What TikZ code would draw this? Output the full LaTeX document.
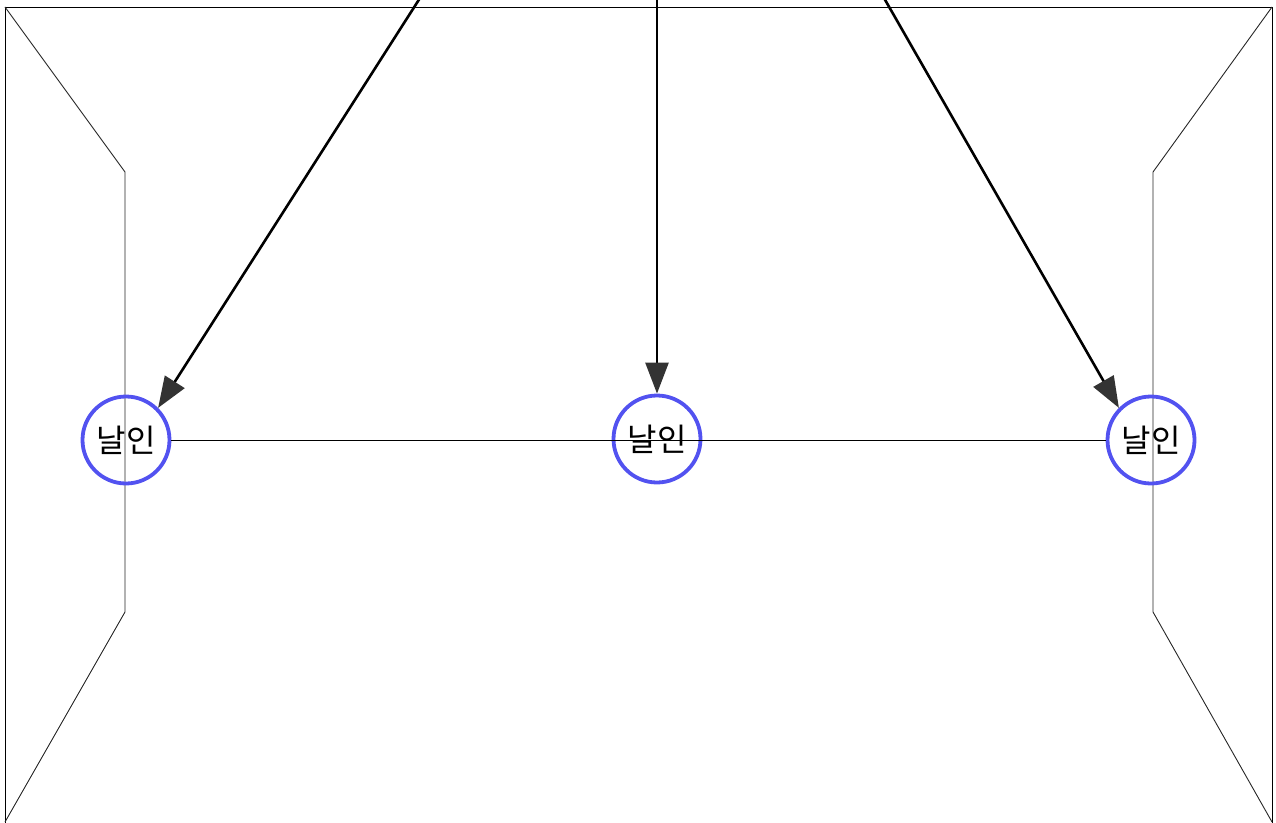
\documentclass[tikz,border=0pt]{standalone}
\usepackage{fontspec}
\newfontfamily\kr{Noto Sans CJK KR}
\usetikzlibrary{arrows.meta}
\definecolor{ringblue}{HTML}{5252F0}
\definecolor{tipgray}{HTML}{333333}
\tikzset{
  seal/.style={circle, draw=ringblue, line width=3.8pt, minimum size=87pt, inner sep=0pt, font=\kr\fontsize{32}{34}\selectfont},
  frame/.style={line width=1pt, black},
  inner/.style={line width=0.9pt, black!85},
  feed/.style={line width=2.6pt, black, -{Triangle[length=31pt,width=23pt,color=tipgray]}},
  link/.style={line width=1pt, black}
}
\begin{document}
\begin{tikzpicture}[x=1pt,y=-1pt]
\useasboundingbox (0,0) rectangle (1276,822);
\begin{scope}
\clip (0,0) rectangle (1276,822);
% outer frame
\draw[frame] (5,830) -- (5,7) -- (1272,7) -- (1272,830);
% inner walls
\draw[inner] (5,7) -- (125,172) -- (125,612) -- (5,822);
\draw[inner] (1272,7) -- (1153,172) -- (1153,612) -- (1272,822);
% seals
\node[seal] (c1) at (126,440) {날인};
\node[seal] (c2) at (657,439) {날인};
\node[seal] (c3) at (1151,440) {날인};
\draw[link] (c1.east) -- (c3.west);
% feeds
\coordinate (s1) at (420,-2);
\coordinate (s2) at (657,-2);
\coordinate (s3) at (884,-2);
\draw[feed] (s1) -- (c1.north east);
\draw[feed] (s2) -- (c2.north);
\draw[feed] (s3) -- (c3.north west);
\end{scope}
\end{tikzpicture}
\end{document}
